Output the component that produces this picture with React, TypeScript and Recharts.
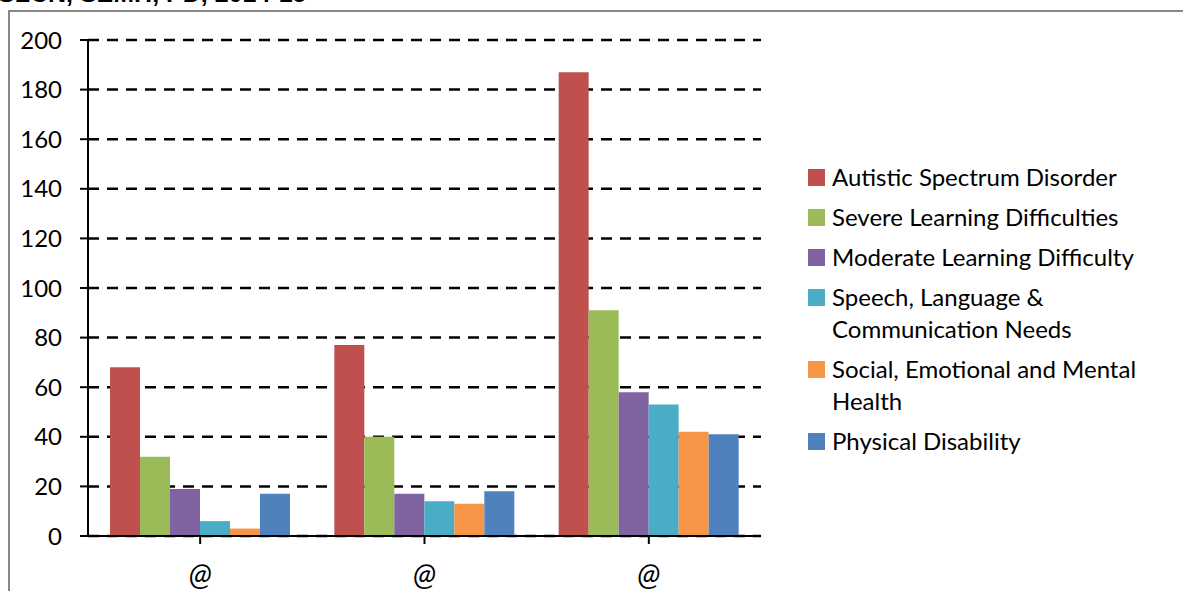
import { Bar, BarChart, CartesianGrid, XAxis, YAxis } from "recharts";

const categories = ["@", "@", "@"];
const seriesNames = [
  "Autistic Spectrum Disorder",
  "Severe Learning Difficulties",
  "Moderate Learning Difficulty",
  "Speech, Language & Communication Needs",
  "Social, Emotional and Mental Health",
  "Physical Disability"
];
const seriesColors = ["#c0504d", "#9bbb59", "#8064a2", "#4bacc6", "#f79646", "#4f81bd"];
const asd = [68, 77, 187];
const sld = [32, 40, 91];
const mld = [19, 17, 58];
const slcn = [6, 14, 53];
const semh = [3, 13, 42];
const pd = [17, 18, 41];
const yTicks = [0, 20, 40, 60, 80, 100, 120, 140, 160, 180, 200];

const seriesValues = [asd, sld, mld, slcn, semh, pd];
const data = categories.map((name, i) => {
  const row: Record<string, string | number> = { name: `${name}-${i}` };
  seriesValues.forEach((vals, s) => {
    row[`s${s}`] = vals[i];
  });
  return row;
});

const font = "Lato, 'Open Sans', sans-serif";

export default function App() {
  return (
    <div style={{ position: "absolute", left: 0, top: 0, width: 1183, height: 591, overflow: "hidden", background: "#fff", fontFamily: font }}>
      <div style={{ position: "absolute", left: -2, top: -21, fontSize: 25, fontWeight: 700, fontFamily: "'Liberation Sans', Arial, sans-serif", whiteSpace: "nowrap" }}>
        SLCN, SEMH, PD, 2014-15
      </div>
      <div style={{ position: "absolute", left: 8, top: 10, width: 1300, height: 700, border: "2px solid #888" }} />
      <div style={{ position: "absolute", left: 0, top: 0 }}>
        <BarChart width={1183} height={591} data={data} margin={{ top: 40, right: 422, bottom: 0, left: 0 }} barGap={0} barCategoryGap={22}>
          <CartesianGrid vertical={false} stroke="#000" strokeWidth={2.5} strokeDasharray="11 8" />
          <XAxis
            dataKey="name"
            height={55}
            tickFormatter={(v: string) => v.split("-")[0]}
            stroke="#000"
            strokeWidth={2}
            tickSize={8}
            tickMargin={20}
            tick={{ fill: "#000", fontSize: 30, fontStyle: "italic", fontFamily: font }}
            interval={0}
          />
          <YAxis
            domain={[0, 200]}
            ticks={yTicks}
            width={88}
            stroke="#000"
            strokeWidth={2}
            tickSize={8}
            tickMargin={18}
            tick={{ fill: "#000", fontSize: 24, fontFamily: font }}
            interval={0}
          />
          {seriesNames.map((n, s) => (
            <Bar key={n} dataKey={`s${s}`} name={n} fill={seriesColors[s]} isAnimationActive={false} />
          ))}
        </BarChart>
      </div>
      <div style={{ position: "absolute", left: 808, top: 161, width: 330, fontSize: 24, lineHeight: "32px" }}>
        {seriesNames.map((n, s) => (
          <div key={n} style={{ display: "flex", alignItems: "flex-start", marginBottom: 8 }}>
            <div style={{ width: 17, height: 17, background: seriesColors[s], marginTop: 8, marginRight: 7, flexShrink: 0 }} />
            <div>{n}</div>
          </div>
        ))}
      </div>
    </div>
  );
}
